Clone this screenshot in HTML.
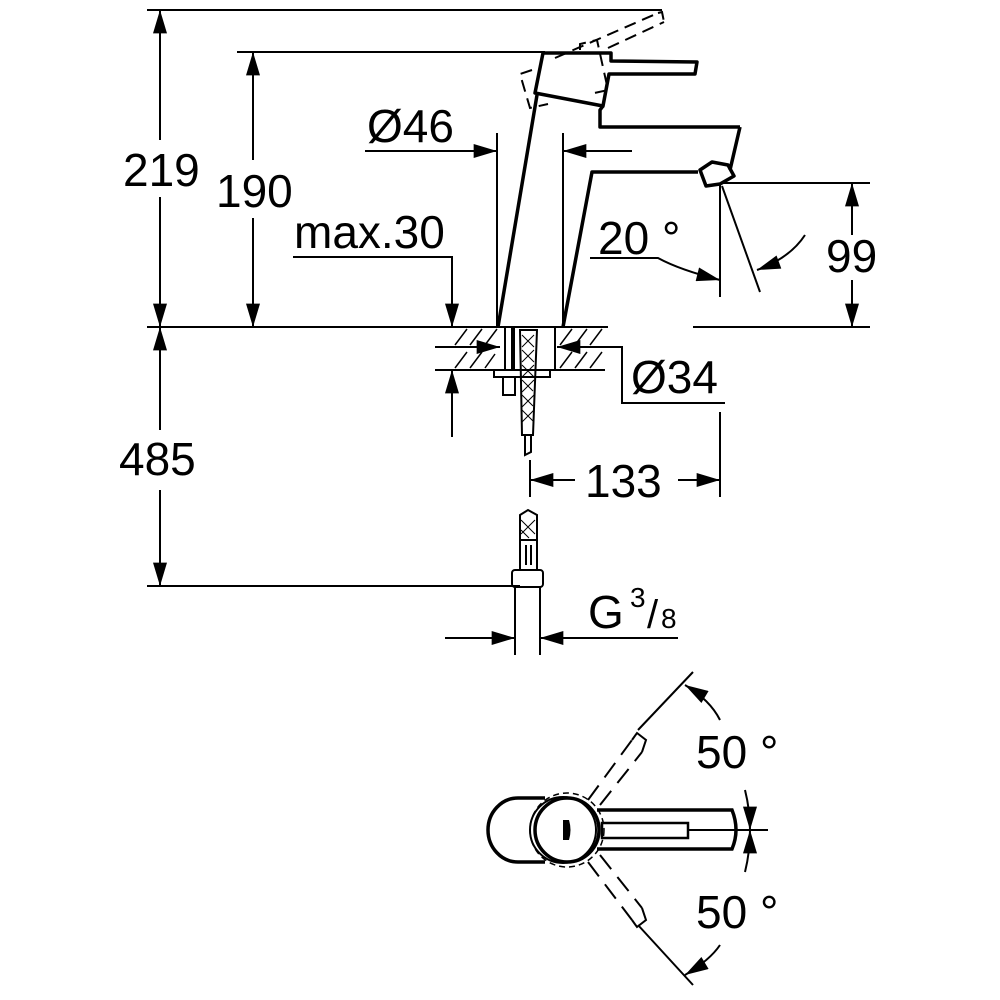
<!DOCTYPE html>
<html><head><style>html,body{margin:0;padding:0;background:#fff}svg{display:block}</style></head>
<body>
<svg width="1000" height="1000" viewBox="0 0 1000 1000" xmlns="http://www.w3.org/2000/svg" font-family="Liberation Sans, sans-serif" fill="none" stroke="#000">
<defs>
<marker id="a" viewBox="0 0 10 6" refX="10" refY="3" markerWidth="34" markerHeight="14" markerUnits="userSpaceOnUse" orient="auto"><path d="M0,0L10,3L0,6z" fill="#000" stroke="none"/></marker>
</defs>
<g stroke-width="2">
<!-- ref lines -->
<line x1="147" y1="10" x2="662" y2="10"/>
<line x1="237" y1="52" x2="545" y2="52"/>
<line x1="147" y1="327" x2="608" y2="327"/>
<line x1="693" y1="327" x2="870" y2="327"/>
<line x1="147" y1="586" x2="520" y2="586"/>
<!-- 219 -->
<line x1="160" y1="140" x2="160" y2="10" marker-end="url(#a)"/>
<line x1="160" y1="197" x2="160" y2="327" marker-end="url(#a)"/>
<!-- 190 -->
<line x1="253" y1="160" x2="253" y2="52" marker-end="url(#a)"/>
<line x1="253" y1="218" x2="253" y2="327" marker-end="url(#a)"/>
<!-- 485 -->
<line x1="160" y1="430" x2="160" y2="327" marker-end="url(#a)"/>
<line x1="160" y1="490" x2="160" y2="586" marker-end="url(#a)"/>
<!-- Ø46 -->
<line x1="365" y1="151" x2="497" y2="151" marker-end="url(#a)"/>
<line x1="632" y1="151" x2="563" y2="151" marker-end="url(#a)"/>
<line x1="497" y1="133" x2="497" y2="327"/>
<line x1="563" y1="133" x2="563" y2="327"/>
<!-- max.30 -->
<polyline points="293,257 452,257 452,327" marker-end="url(#a)"/>
</g>
<!-- faucet -->
<g stroke-width="3.5" stroke-linejoin="round">
<line x1="498" y1="327" x2="537" y2="95"/>
<polyline points="563,327 592,172 698,172"/>
<polygon points="543,53 611,53 611,61 697,62 695,74 609,74 603,106 535,93"/>
<polyline points="603,106 600,110 600,127 740,127"/>
<path d="M700,170 L712,162 L728,165 L734,176 L720,184 L706,186 Z"/>
<line x1="740" y1="127" x2="730" y2="170"/>
</g>
<!-- dashed lever -->
<g stroke-width="2" stroke-dasharray="12,7">
<polyline points="532,70 520,74 530,108 548,104"/>
<polyline points="580,50 580,44 597,40 608,90 590,94"/>
<line x1="555" y1="58" x2="658" y2="13"/>
<line x1="608" y1="48" x2="664" y2="22"/>
<polyline points="658,13 662,12 664,22"/>
</g>
<!-- 20° / 99 -->
<g stroke-width="2">
<path d="M590,258 L658,258 Q680,270 720,280" marker-end="url(#a)"/>
<line x1="720" y1="185" x2="720" y2="297"/>
<line x1="722" y1="186" x2="760" y2="292"/>
<path d="M805,235 Q790,258 757,270" marker-end="url(#a)"/>
<line x1="720" y1="183" x2="870" y2="183"/>
<line x1="852" y1="235" x2="852" y2="183" marker-end="url(#a)"/>
<line x1="852" y1="280" x2="852" y2="327" marker-end="url(#a)"/>
</g>
<!-- counter hatch -->
<g stroke-width="1.5">
<line x1="435" y1="370" x2="605" y2="370" stroke-width="2"/>
<path d="M455,345l12,-16M470,345l12,-16M485,345l12,-16M455,368l12,-16M470,368l12,-16M485,368l10,-14M560,345l12,-16M575,345l12,-16M590,345l12,-16M560,368l12,-16M575,368l12,-16M590,368l12,-16"/>
</g>
<g stroke-width="2">
<line x1="435" y1="347" x2="500" y2="347" marker-end="url(#a)"/>
<line x1="612" y1="347" x2="557" y2="347" marker-end="url(#a)"/>
<polyline points="612,347 622,347 622,403 725,403"/>
<line x1="452" y1="437" x2="452" y2="370" marker-end="url(#a)"/>
<rect x="505" y="327" width="50" height="43"/>
<line x1="513" y1="327" x2="513" y2="370" stroke-width="4"/>
<rect x="494" y="370" width="56" height="7"/>
<rect x="503" y="377" width="12" height="18"/>
<path d="M520,330 L537,330 L533,435 L522,435 Z" stroke-width="2"/>
<path d="M522,335l12,12M522,350l12,12M522,365l12,12M522,380l11,11M522,395l11,11M522,410l11,11M534,335l-12,12M534,350l-12,12M534,365l-12,12M534,380l-12,12M534,395l-12,12M534,410l-12,12" stroke-width="1"/>
<path d="M525,435 L525,455 L531,452 L531,435"/>
<!-- 133 -->
<line x1="530" y1="460" x2="530" y2="497"/>
<line x1="720" y1="412" x2="720" y2="497"/>
<line x1="575" y1="480" x2="530" y2="480" marker-end="url(#a)"/>
<line x1="678" y1="480" x2="720" y2="480" marker-end="url(#a)"/>
<!-- lower hose -->
<path d="M520,515 L528,510 L537,515 L537,540 L520,540 Z"/>
<path d="M521,520l14,14M521,530l8,8M535,520l-14,14" stroke-width="1"/>
<rect x="520" y="540" width="17" height="30"/>
<line x1="526" y1="545" x2="526" y2="565"/><line x1="531" y1="545" x2="531" y2="565"/>
<rect x="512" y="570" width="31" height="17" rx="3"/>
<line x1="515" y1="587" x2="515" y2="655"/>
<line x1="540" y1="587" x2="540" y2="655"/>
<line x1="445" y1="638" x2="515" y2="638" marker-end="url(#a)"/>
<line x1="678" y1="638" x2="540" y2="638" marker-end="url(#a)"/>
</g>
<!-- top view -->
<g stroke-width="3.5">
<path d="M545,798 L518,798 A30,32 0 0 0 518,862 L545,862"/>
<circle cx="567" cy="830" r="32"/>
<circle cx="563" cy="830" r="33" stroke-width="2"/>
<path d="M597,810 L732,810 Q740,830 732,849 L597,849"/>
<rect x="602" y="823" width="86" height="15" stroke-width="2.5"/>
</g>
<path d="M563,820 L569,820 Q572,830 569,840 L563,840 Z" fill="#000" stroke="none"/>
<g stroke-width="2">
<line x1="688" y1="830" x2="768" y2="830"/>
<circle cx="567" cy="830" r="37" stroke-dasharray="6,4" stroke-width="1.5"/>
<line x1="638" y1="730" x2="693" y2="672"/>
<line x1="638" y1="925" x2="693" y2="985"/>
<path d="M588,800 L632,740 M600,805 L642,752 M588,862 L632,920 M600,855 L642,908" stroke-dasharray="18,10"/>
<polyline points="632,740 637,733 646,740 642,752"/>
<polyline points="632,920 637,927 646,920 642,908"/>
<path d="M720,720 Q710,700 685,685" marker-end="url(#a)"/>
<path d="M745,790 Q750,810 750,830" marker-end="url(#a)"/>
<path d="M745,872 Q750,852 750,830" marker-end="url(#a)"/>
<path d="M720,945 Q710,960 685,975" marker-end="url(#a)"/>
</g>
<g fill="#000" stroke="none" font-size="46">
<text x="123" y="186">219</text>
<text x="216" y="207">190</text>
<text x="119" y="475">485</text>
<text x="367" y="142">Ø46</text>
<text x="294" y="248">max.30</text>
<text x="598" y="254">20 °</text>
<text x="826" y="272">99</text>
<text x="631" y="393">Ø34</text>
<text x="585" y="497">133</text>
<text x="588" y="628">G</text>
<text x="630" y="607" font-size="28">3</text>
<text x="647" y="628" font-size="40">/</text>
<text x="661" y="628" font-size="28">8</text>
<text x="696" y="768">50 °</text>
<text x="696" y="928">50 °</text>
</g>
</svg>
</body></html>
